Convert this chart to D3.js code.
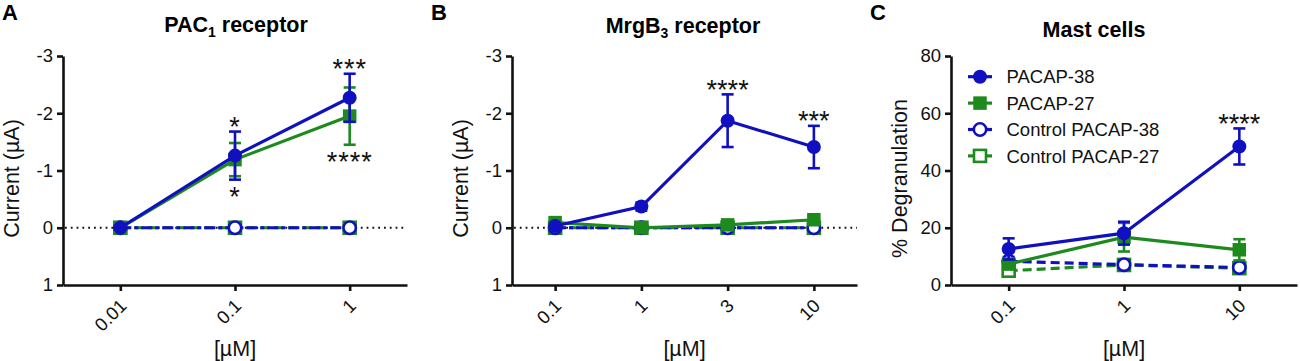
<!DOCTYPE html>
<html>
<head>
<meta charset="utf-8">
<script src="https://cdn.jsdelivr.net/npm/d3@7"></script>
<style>
  body { margin: 0; background: #fff; }
  svg { font-family: Arial, "Liberation Sans", sans-serif; }
</style>
</head>
<body>
<svg id="chart" width="1300" height="361"></svg>
<script>
// panel A - PAC1 receptor, current (uA)
var concA = ["0.01", "0.1", "1"];
var pacP38 = [0, -1.26, -2.27];
var pacP38Sem = [0, 0.42, 0.42];
var pacP27 = [0, -1.19, -1.95];
var pacP27Sem = [0, 0.29, 0.50];
var pacCtl38 = [0, 0, 0];
var pacCtl27 = [0, 0, 0];

// panel B - MrgB3 receptor
var concB = ["0.1", "1", "3", "10"];
var mrgP38 = [-0.03, -0.37, -1.87, -1.41];
var mrgP38Sem = [0.02, 0.07, 0.46, 0.37];
var mrgP27 = [-0.09, 0.0, -0.05, -0.14];
var mrgP27Sem = [0.03, 0.03, 0.04, 0.05];
var mrgCtl38 = [0, 0, 0, 0];
var mrgCtl27 = [0, 0, 0, 0];

// panel C - mast cells, % degranulation
var concC = ["0.1", "1", "10"];
var mastP38 = [12.6, 18.1, 48.4];
var mastP38Sem = [3.7, 4.0, 6.3];
var mastP27 = [7.3, 16.7, 12.3];
var mastP27Sem = [1.5, 5.0, 3.7];
var mastCtl38 = [8.3, 7.1, 6.1];
var mastCtl38Sem = [1.5, 1.5, 1.0];
var mastCtl27 = [5.0, 7.0, 5.9];
var mastCtl27Sem = [1.5, 2.0, 1.5];

var ticksA = [-3, -2, -1, 0, 1];
var ticksC = [0, 20, 40, 60, 80];

var legendNames = ["PACAP-38", "PACAP-27", "Control PACAP-38", "Control PACAP-27"];

// significance: [concentration, stars, series index, side]
var starsA = [["0.1", "*", 0, "up"], ["0.1", "*", 0, "down"], ["1", "***", 0, "up"], ["1", "****", 1, "down"]];
var starsB = [["3", "****", 0, "up"], ["10", "***", 0, "up"]];
var starsC = [["10", "****", 0, "up"]];

var blue = "#1010c0";
var green = "#1e8a1e";

d3.select(window).on('load', init);

function init() {
    var svg = d3.select('#chart');

    var panels = [
        {letter: "A", lx: 2, title: "PAC", sub: "1", rest: " receptor", tx: 236, ty: 32,
         x0: 63, x1: 407, conc: concA, dom: [1, -3], ticks: ticksA, ylab: "Current (\u00b5A)",
         zero: true, dashCtl38: "11,3,4,3", stars: starsA,
         series: [[pacCtl27, null], [pacCtl38, null], [pacP27, pacP27Sem], [pacP38, pacP38Sem]]},
        {letter: "B", lx: 431, title: "MrgB", sub: "3", rest: " receptor", tx: 683, ty: 33,
         x0: 512, x1: 857, conc: concB, dom: [1, -3], ticks: ticksA, ylab: "Current (\u00b5A)",
         zero: true, dashCtl38: "11,3,4,3", stars: starsB,
         series: [[mrgCtl27, null], [mrgCtl38, null], [mrgP27, mrgP27Sem], [mrgP38, mrgP38Sem]]},
        {letter: "C", lx: 870, title: "Mast cells", sub: "", rest: "", tx: 1094, ty: 36.5,
         x0: 951, x1: 1297, conc: concC, dom: [0, 80], ticks: ticksC, ylab: "% Degranulation",
         zero: false, dashCtl38: "9,5", stars: starsC, legend: true,
         series: [[mastCtl27, mastCtl27Sem], [mastCtl38, mastCtl38Sem], [mastP27, mastP27Sem], [mastP38, mastP38Sem]]}
    ];

    // series order in panel.series: ctl27, ctl38, p27, p38
    var styles = [
        {color: green, open: true, shape: "square", dash: "9,5"},
        {color: blue, open: true, shape: "circle", dash: null},
        {color: green, open: false, shape: "square", dash: null},
        {color: blue, open: false, shape: "circle", dash: null}
    ];

    var top = 56, bottom = 285;

    panels.forEach(function(p) {
        var g = svg.append('g');

        var x = d3.scalePoint().domain(p.conc).range([p.x0, p.x1]).padding(0.5);
        var y = d3.scaleLinear().domain(p.dom).range([bottom, top]);

        // panel letter and title
        g.append('text').attr('x', p.lx).attr('y', 20)
            .attr('font-size', 22).attr('font-weight', 'bold').text(p.letter);
        var t = g.append('text').attr('x', p.tx).attr('y', p.ty)
            .attr('text-anchor', 'middle').attr('font-size', 21.5).attr('font-weight', 'bold');
        t.append('tspan').text(p.title);
        if (p.sub) {
            t.append('tspan').attr('font-size', 14).attr('dy', 5).text(p.sub);
            t.append('tspan').attr('dy', -5).text(p.rest);
        }

        // axes
        var ya = g.append('g').attr('transform', 'translate(' + p.x0 + ',0)')
            .call(d3.axisLeft(y).tickValues(p.ticks).tickSize(6).tickSizeOuter(0)
                .tickPadding(4).tickFormat(function(d) { return String(d); }));
        var xa = g.append('g').attr('transform', 'translate(0,' + bottom + ')')
            .call(d3.axisBottom(x).tickSize(6).tickSizeOuter(0));
        [ya, xa].forEach(function(a) {
            a.select('.domain').attr('stroke', '#111').attr('stroke-width', 2.6);
            a.selectAll('.tick line').attr('stroke', '#111').attr('stroke-width', 2.6);
            a.selectAll('text').attr('font-size', 18.5).attr('fill', '#111')
                .attr('font-family', 'Arial, "Liberation Sans", sans-serif');
        });
        xa.selectAll('.tick text')
            .attr('y', 0).attr('dy', 0).attr('x', 0)
            .attr('text-anchor', 'end')
            .attr('transform', 'translate(7,22) rotate(-45)');

        g.append('text').attr('x', (p.x0 + p.x1) / 2).attr('y', 356)
            .attr('text-anchor', 'middle').attr('font-size', 21.5).attr('fill', '#111').text('[\u00b5M]');
        g.append('text')
            .attr('transform', 'translate(' + (p.x0 - 44) + ',' + ((top + bottom) / 2 + 8) + ') rotate(-90)')
            .attr('text-anchor', 'middle').attr('font-size', 21.5).attr('fill', '#111').text(p.ylab);

        if (p.zero) {
            g.append('line').attr('x1', p.x0 + 2).attr('x2', p.x1).attr('y1', y(0)).attr('y2', y(0))
                .attr('stroke', '#111').attr('stroke-width', 1.8).attr('stroke-dasharray', '1.8,4');
        }

        var line = d3.line()
            .x(function(d, i) { return x(p.conc[i]); })
            .y(function(d) { return y(d); });

        p.series.forEach(function(s, k) {
            var st = styles[k];
            var vals = s[0], sem = s[1];
            var dash = k === 1 ? p.dashCtl38 : st.dash;
            var sg = g.append('g');

            sg.append('path').datum(vals).attr('d', line)
                .attr('fill', 'none').attr('stroke', st.color).attr('stroke-width', 3.2)
                .attr('stroke-dasharray', dash);

            if (sem) {
                var eb = sg.selectAll('g.eb').data(vals).enter().append('g');
                eb.append('line')
                    .attr('x1', function(d, i) { return x(p.conc[i]); })
                    .attr('x2', function(d, i) { return x(p.conc[i]); })
                    .attr('y1', function(d, i) { return y(d - sem[i]); })
                    .attr('y2', function(d, i) { return y(d + sem[i]); });
                eb.append('line')
                    .attr('x1', function(d, i) { return x(p.conc[i]) - 6; })
                    .attr('x2', function(d, i) { return x(p.conc[i]) + 6; })
                    .attr('y1', function(d, i) { return y(d - sem[i]); })
                    .attr('y2', function(d, i) { return y(d - sem[i]); });
                eb.append('line')
                    .attr('x1', function(d, i) { return x(p.conc[i]) - 6; })
                    .attr('x2', function(d, i) { return x(p.conc[i]) + 6; })
                    .attr('y1', function(d, i) { return y(d + sem[i]); })
                    .attr('y2', function(d, i) { return y(d + sem[i]); });
                eb.selectAll('line').attr('stroke', st.color).attr('stroke-width', 2.6);
            }

            vals.forEach(function(d, i) {
                drawMarker(sg, st, x(p.conc[i]), y(d));
            });
        });

        // significance stars, placed beyond the error bar end
        p.stars.forEach(function(s) {
            var k = s[2] === 0 ? 3 : 2;
            var i = p.conc.indexOf(s[0]);
            var v = p.series[k][0][i], e = p.series[k][1][i];
            var upVal = p.dom[0] > p.dom[1] ? v - e : v + e;
            var downVal = p.dom[0] > p.dom[1] ? v + e : v - e;
            var cy = s[3] === 'up' ? y(upVal) - 11 : y(downVal) + 11;
            g.append('text').attr('x', x(s[0])).attr('y', cy + 0.57 * 27)
                .attr('text-anchor', 'middle').attr('font-size', 27)
                .attr('letter-spacing', p.letter === 'A' ? 1 : 0)
                .attr('fill', '#111').text(s[1]);
        });

        if (p.legend) {
            var order = [3, 2, 1, 0];
            var lg = g.append('g');
            order.forEach(function(k, r) {
                var st = styles[k];
                var ly = 76.7 + r * 26.4;
                lg.append('line').attr('x1', 968).attr('x2', 992).attr('y1', ly).attr('y2', ly)
                    .attr('stroke', st.color).attr('stroke-width', 3.2);
                drawMarker(lg, st, 980, ly);
                lg.append('text').attr('x', 1006.5).attr('y', ly).attr('dy', '0.36em')
                    .attr('font-size', 18.5).attr('fill', '#111').text(legendNames[r]);
            });
        }
    });
}

function drawMarker(sel, st, cx, cy) {
    if (st.shape === 'circle') {
        sel.append('circle').attr('cx', cx).attr('cy', cy).attr('r', st.open ? 6.2 : 7)
            .attr('fill', st.open ? '#fff' : st.color)
            .attr('stroke', st.color).attr('stroke-width', st.open ? 2.6 : 0);
    } else {
        var s = st.open ? 12 : 13.5;
        sel.append('rect').attr('x', cx - s / 2).attr('y', cy - s / 2).attr('width', s).attr('height', s)
            .attr('fill', st.open ? '#fff' : st.color)
            .attr('stroke', st.color).attr('stroke-width', st.open ? 2.6 : 0);
    }
}
</script>
</body>
</html>
